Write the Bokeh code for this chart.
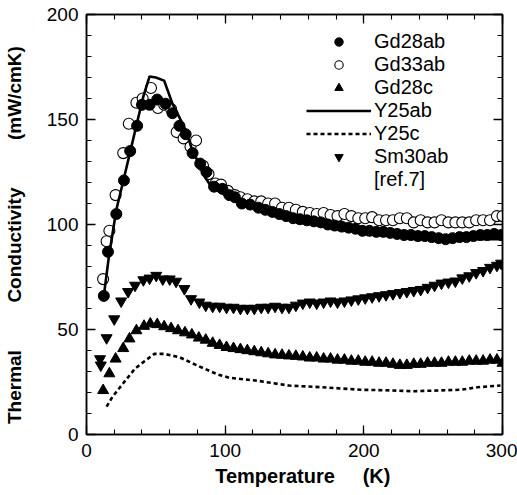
from bokeh.plotting import figure
from bokeh.models import Range1d, LinearAxis, Legend, LegendItem, SingleIntervalTicker
from bokeh.embed import file_html
from bokeh.resources import INLINE

# ---------------- data ----------------
gd28ab_T = [12.5, 15.5, 21.5, 27, 31.5, 36.5, 40, 45.5, 51, 57, 62, 67, 71.5, 76.5, 82, 86.5, 92, 98,
            103, 107, 112, 118, 124, 129, 134, 139, 144, 149, 154, 159, 164, 169, 174, 179, 184, 189,
            194, 199, 204, 209, 214, 219, 224, 229, 234, 239, 244, 249, 254, 259, 264, 269, 274, 279,
            284, 289, 294, 299]
gd28ab_K = [66, 87, 105, 121, 135, 147, 157, 157, 159.5, 157.5, 153, 147, 143, 134, 129, 125, 118, 117,
            114, 113, 110, 109.5, 108, 107, 106, 105, 104, 103, 102.5, 102, 101.5, 101, 100, 99.5, 99, 98.5,
            98, 97, 97, 96.5, 96.5, 96, 95.5, 95, 95, 94.5, 94.5, 94, 93.5, 93, 93.5, 94, 94, 94.5,
            95, 95, 95.5, 95]

gd33ab_T = [12, 14.5, 16.5, 21, 26.5, 30.5, 36, 40.5, 46.5, 51.5, 56, 61, 65, 70, 75, 79, 84, 88, 93,
            97, 102, 107, 111, 116, 121, 126, 131, 136, 141, 146, 151, 156, 161, 166, 171, 176, 181, 186,
            191, 196, 201, 206, 211, 216, 221, 226, 231, 236, 241, 246, 251, 256, 261, 266, 271, 276,
            281, 286, 291, 296, 300]
gd33ab_K = [74, 92, 97, 114, 134, 148, 158, 160, 165, 155.5, 157, 155, 144, 141, 137, 140, 128, 124, 119.5,
            119, 116, 114, 113, 112, 111, 111, 110, 110, 108, 108, 107, 106, 105.5, 105, 105.5, 104.5, 104, 105,
            104, 103, 103, 103.5, 102, 102, 102, 103, 103, 101, 102, 101, 101, 102, 101, 101, 101, 101,
            102, 102, 102, 104, 104]

gd28c_T = [12, 16.5, 21, 26.5, 31, 36, 41.5, 46, 51, 56, 61, 66, 71, 76, 81, 86, 91, 96, 101, 106, 111,
           116, 121, 126, 131, 136, 141, 146, 151, 156, 161, 166, 171, 176, 181, 186, 191, 196, 201, 206,
           211, 216, 221, 226, 231, 236, 241, 246, 251, 256, 261, 266, 271, 276, 281, 286, 291, 296, 300]
gd28c_K = [21, 29, 36, 41, 45.6, 49.5, 51.6, 52.7, 52.4, 51.4, 50.5, 49.5, 48.5, 47.5, 46, 45, 43.5, 42.5,
           41.5, 41, 40.5, 40, 39.5, 39, 38.5, 38, 37.8, 37.5, 37.3, 37, 36.5, 36.5, 36, 36, 35.5, 35.5,
           35, 35, 34.5, 34.5, 34, 34, 33.5, 33, 33, 33.5, 33.5, 34, 34, 34, 34.5, 34.5, 34.5, 35, 35,
           35, 35.5, 35.5, 34]

sm30ab_T = [9.8, 10.3, 14.5, 20, 25, 30, 35, 41, 45.5, 50.3, 55, 60, 64.6, 70.6, 75.4, 81.4, 86, 91, 96,
            101, 106, 111, 116, 121, 126, 131, 136, 141, 146, 151, 156, 161, 166, 171, 176, 181, 186, 191,
            196, 201, 206, 211, 216, 221, 226, 231, 236, 241, 246, 251, 256, 261, 266, 271, 276, 281, 286,
            291, 296, 299]
sm30ab_K = [36, 33, 46, 55, 63.5, 68, 71, 73.6, 74.4, 75.7, 74, 74, 72.9, 69.4, 64.6, 63, 61.5, 61, 61,
            60.5, 60.5, 60, 60, 60, 60.5, 60.5, 61, 60.5, 60.5, 61.5, 62.5, 63, 62.5, 63, 63.5, 63, 63.5, 64,
            64.5, 65, 65.5, 66, 66.5, 67, 67.5, 68, 68.5, 69, 70, 71, 72, 72.5, 73, 74.5, 75.5, 77, 78,
            79.5, 80.5, 81.5]

y25ab_T = [12.5, 16, 21.5, 27, 32, 37, 41, 45.5, 50, 56, 62, 67, 71.5, 76, 81, 86, 90, 95, 100, 110,
           120, 130, 140, 150, 160, 170, 180, 190, 200, 210, 220, 230, 240, 250, 260, 270, 280, 290, 300]
y25ab_K = [66, 84, 107, 122, 136, 150, 161, 170.5, 170, 168.5, 157.5, 151, 144.8, 136, 129, 122, 118, 116,
           114, 111, 108.5, 106.5, 104.5, 103, 101.5, 100, 99, 98, 97, 96, 95.5, 95, 94.5, 94, 93.5, 93,
           93, 93, 93]

y25c_T = [14.5, 18.6, 26.5, 35, 42, 49, 56, 67, 81, 95, 103, 122, 146, 170, 198, 220, 236, 255, 270, 282, 298.5]
y25c_K = [13.3, 17.8, 24.4, 31.4, 35, 38.4, 38.4, 36.8, 32.5, 28.5, 27, 25.7, 23.3, 22.5, 21.3, 21, 20.6,
          21, 21.3, 22.5, 23.3]

series_names = ["Gd28ab", "Gd33ab", "Gd28c", "Y25ab", "Y25c", "Sm30ab", "[ref.7]"]
x_title_words = ["Temperature", "(K)"]
y_title_words = ["Thermal", "Conductivity", "(mW/cmK)"]
x_ticks_interval = 100
y_ticks_interval = 50

# ---------------- figure ----------------
FONT = "Liberation Sans"
NB = "\u00a0"
p = figure(width=517, height=495, output_backend="svg", toolbar_location=None,
           x_range=Range1d(0, 300), y_range=Range1d(0, 200),
           min_border_left=83, min_border_right=15, min_border_top=14, min_border_bottom=61,
           background_fill_color="white", border_fill_color="white")
p.xgrid.visible = False
p.ygrid.visible = False
p.outline_line_color = "black"
p.outline_line_width = 1.5


def style_axis(ax, show_labels=True):
    ax.major_tick_in = 9
    ax.major_tick_out = 0
    ax.minor_tick_in = 5
    ax.minor_tick_out = 0
    ax.axis_line_width = 1.5
    ax.axis_line_color = "black"
    ax.major_tick_line_color = "black"
    ax.minor_tick_line_color = "black"
    ax.major_tick_line_width = 1.3
    ax.minor_tick_line_width = 1.1
    if show_labels:
        ax.major_label_text_font = FONT
        ax.major_label_text_font_size = "19px"
        ax.major_label_text_color = "black"
        ax.axis_label_text_font = FONT
        ax.axis_label_text_font_style = "bold"
        ax.axis_label_text_color = "black"
    else:
        ax.major_label_text_font_size = "1px"
        ax.major_label_text_alpha = 0
        ax.major_label_standoff = 0


p.xaxis.ticker = SingleIntervalTicker(interval=x_ticks_interval, num_minor_ticks=5)
p.yaxis.ticker = SingleIntervalTicker(interval=y_ticks_interval, num_minor_ticks=5)
style_axis(p.xaxis[0])
style_axis(p.yaxis[0])
p.xaxis.major_label_standoff = 9
p.yaxis.major_label_standoff = 8

p.xaxis.axis_label = NB * 3 + x_title_words[0] + NB * 5 + x_title_words[1]
p.xaxis.axis_label_text_font_size = "20px"
p.xaxis.axis_label_standoff = 5
p.yaxis.axis_label = (y_title_words[0] + NB * 9 + y_title_words[1] + NB * 9 + y_title_words[2]
                      + NB * 4)
p.yaxis.axis_label_text_font_size = "19px"
p.yaxis.axis_label_standoff = 19

top_ax = LinearAxis(ticker=SingleIntervalTicker(interval=x_ticks_interval, num_minor_ticks=5))
right_ax = LinearAxis(ticker=SingleIntervalTicker(interval=y_ticks_interval, num_minor_ticks=5))
style_axis(top_ax, False)
style_axis(right_ax, False)
p.add_layout(top_ax, "above")
p.add_layout(right_ax, "right")

# ---------------- data glyphs ----------------
r_gd33 = p.scatter(gd33ab_T, gd33ab_K, marker="circle", size=11, fill_color="white",
                   line_color="black", line_width=1.1)
r_gd28ab = p.scatter(gd28ab_T, gd28ab_K, marker="circle", size=11, fill_color="black",
                     line_color="black")
r_y25ab = p.line(y25ab_T, y25ab_K, line_width=2.6, line_color="black")
r_y25c = p.line(y25c_T, y25c_K, line_width=2.6, line_color="black", line_dash="4 3")
r_gd28c = p.scatter(gd28c_T, gd28c_K, marker="triangle", size=11, fill_color="black",
                    line_color="black")
r_sm30 = p.scatter(sm30ab_T, sm30ab_K, marker="inverted_triangle", size=11, fill_color="black",
                   line_color="black")
r_dummy = p.scatter(x=[], y=[], marker="circle", size=1, alpha=0)

renderers = [r_gd28ab, r_gd33, r_gd28c, r_y25ab, r_y25c, r_sm30, r_dummy]
items = [LegendItem(label=name, renderers=[r]) for name, r in zip(series_names, renderers)]
legend = Legend(items=items, location="top_right", border_line_color=None,
                background_fill_alpha=0, label_text_font=FONT, label_text_font_size="20px",
                label_text_color="black",
                glyph_width=65, glyph_height=21, label_height=21, spacing=0, padding=2,
                margin=16, label_standoff=3, label_width=112)
p.add_layout(legend)

open("out.html", "w").write(file_html(p, INLINE))
